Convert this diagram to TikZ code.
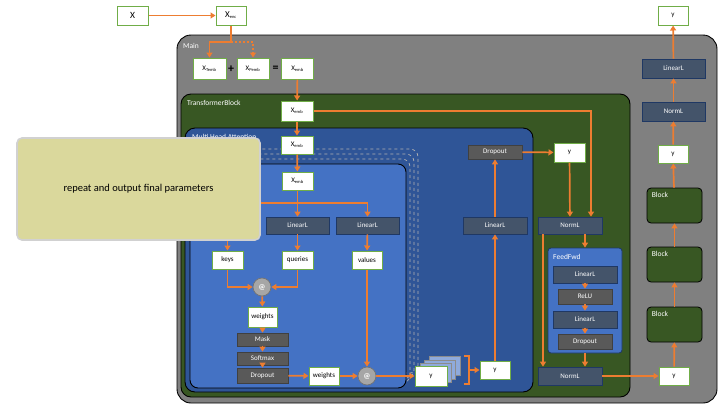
\documentclass[tikz,border=0pt]{standalone}
\usepackage{fontspec}
\setmainfont{Carlito}
\usetikzlibrary{arrows.meta}

\definecolor{maingray}{RGB}{128,128,128}
\definecolor{tbgreen}{RGB}{56,87,35}
\definecolor{mhablue}{RGB}{47,85,151}
\definecolor{headblue}{RGB}{68,114,196}
\definecolor{linfill}{RGB}{68,84,106}
\definecolor{linedge}{RGB}{31,56,100}
\definecolor{opfill}{RGB}{89,89,89}
\definecolor{boxgreen}{RGB}{112,173,71}
\definecolor{arrorange}{RGB}{237,125,49}
\definecolor{notefill}{RGB}{218,216,156}
\definecolor{cardblue}{RGB}{143,170,220}

\newcommand{\xsub}[1]{X\textsubscript{\fontsize{4.5}{4.5}\selectfont #1}}

\begin{document}
\begin{tikzpicture}[x=1pt, y=-1pt,
    every node/.style = { font=\fontsize{7}{8}\selectfont, inner sep=0pt },
    wbox/.style = { draw=boxgreen, fill=white, line width=1pt, minimum width=31, minimum height=19 },
    linl/.style = { draw=linedge, fill=linfill, text=white, line width=0.7pt, minimum width=63, minimum height=17 },
    opbox/.style = { draw=black!75, fill=opfill, text=white, line width=0.7pt, minimum width=52, minimum height=14 },
    atop/.style = { circle, draw=black!55, fill=black!35, text=white, line width=0.7pt, minimum size=18, font=\fontsize{7.5}{8}\selectfont\bfseries },
    blockbox/.style = { draw=black, fill=tbgreen, line width=0.8pt, rounded corners=4, minimum width=55, minimum height=35 },
    card/.style = { draw=black!45, fill=cardblue, line width=0.7pt, minimum width=31, minimum height=19 },
    frame/.style = { draw=black, line width=0.9pt },
    ttl/.style = { text=white, anchor=west, font=\fontsize{7.5}{8}\selectfont },
    ln/.style = { draw=arrorange, line width=1.7pt },
    arr/.style = { ln, -{Triangle[length=5pt,width=6pt]} }
  ]
  \useasboundingbox (0,0) rectangle (720,405);

  % containers
  \draw[frame, fill=maingray, rounded corners=14] (177,35) rectangle (717,403);
  \node[ttl] (mainlbl) at (183,46) {Main};
  \draw[frame, fill=tbgreen, rounded corners=10] (181,94) rectangle (630,397);
  \node[ttl] (tblbl) at (187,103) {TransformerBlock};
  \draw[frame, fill=mhablue, rounded corners=10] (185,128) rectangle (533,392);
  \node[ttl] (mhalbl) at (192,137) {Multi Head Attention};
  \foreach \d in {3,2,1}
    \draw[dashed, black!30, line width=0.7pt, rounded corners=8] (190+4*\d,164-5*\d) rectangle (406+4*\d,388-5*\d);
  \draw[frame, fill=headblue, rounded corners=8] (190,164) rectangle (406,388);

  % input and embeddings
  \node[wbox, font=\fontsize{9.5}{10}\selectfont] (x) at (132.5,15.5) {X};
  \node[wbox, font=\fontsize{9}{9}\selectfont, minimum width=30] (xenc) at (231,15.5) {\xsub{enc}};
  \node[wbox, minimum width=33, minimum height=21] (xtemb) at (209.5,68.5) {\xsub{Temb}};
  \node[font=\fontsize{12}{12}\selectfont\bfseries] (plus) at (231,69) {+};
  \node[wbox, minimum width=32, minimum height=21] (xpemb) at (253,68.5) {\xsub{Pemb}};
  \node[font=\fontsize{12}{12}\selectfont\bfseries] (eq) at (275.5,69) {=};
  \node[wbox, minimum width=32, minimum height=21] (xemb0) at (297.5,68.5) {\xsub{emb}};

  % transformer block
  \node[wbox, minimum width=32, minimum height=20] (tbemb) at (297,111) {\xsub{emb}};
  \node[wbox, minimum width=32, minimum height=18] (mhaemb) at (297,145) {\xsub{emb}};
  \node[wbox, minimum width=31, minimum height=18] (hdemb) at (297.5,181) {\xsub{emb}};

  % one head
  \node[linl] (linq) at (297.5,225.5) {LinearL};
  \node[linl] (linv) at (367.5,225.5) {LinearL};
  \node[wbox, minimum height=18] (keys) at (227.5,260) {keys};
  \node[wbox, minimum height=18] (queries) at (297.5,260) {queries};
  \node[wbox, minimum width=30, minimum height=18] (values) at (367,260) {values};
  \node[atop] (mul1) at (262,287) {@};
  \node[wbox, minimum width=29, minimum height=20] (wt1) at (262.5,317) {weights};
  \node[opbox, minimum width=51, minimum height=13] (mask) at (262.5,339.5) {Mask};
  \node[opbox, minimum width=51, minimum height=13] (softmax) at (262.5,358.5) {Softmax};
  \node[opbox, minimum width=51, minimum height=15] (droph) at (262.5,375.5) {Dropout};
  \node[wbox, minimum width=30, minimum height=18] (wt2) at (324,376) {weights};
  \node[atop] (mul2) at (367,376) {@};

  % heads stacked and joined
  \foreach \d in {3,2,1}
    \node[card] (card\d) at (431+4.5*\d,376-3.3*\d) {};
  \node[wbox, minimum width=32, minimum height=20] (yfront) at (431,376) {y};
  \draw[ln, line width=1.1pt] (464,356) -- (469,356) -- (469,384) -- (464,384);
  \coordinate (brk) at (469,370);
  \node[wbox, minimum width=30, minimum height=18] (ycat) at (495,370) {y};
  \node[linl, minimum width=64] (lino) at (495,225.5) {LinearL};
  \node[opbox, minimum width=54] (dropm) at (495,152) {Dropout};
  \node[wbox] (y1) at (569.5,152.5) {y};
  \node[linl, minimum width=64] (norm1) at (570,225.5) {NormL};

  % feed forward
  \node[draw=linedge, fill=headblue, line width=0.8pt, rounded corners=3, minimum width=74, minimum height=105] (ffwd) at (585,300.5) {};
  \node[ttl] (fflbl) at (553,257) {FeedFwd};
  \node[linl, minimum width=64] (fflin1) at (585,274.5) {LinearL};
  \node[opbox, minimum width=54, minimum height=15] (relu) at (585,296.5) {ReLU};
  \node[linl, minimum width=64] (fflin2) at (585,319.5) {LinearL};
  \node[opbox, minimum width=54, minimum height=15] (ffdrop) at (585,341.5) {Dropout};
  \node[linl, minimum width=64, minimum height=18] (norm2) at (570,376) {NormL};

  % stack of blocks and output
  \node[wbox, minimum width=30, minimum height=18] (yb) at (674,376) {y};
  \foreach \n/\y in {1/205.5, 2/264.5, 3/324.5} {
    \node[blockbox] (blk\n) at (674.5,\y) {};
    \node[ttl, anchor=north west] (blklbl\n) at ([shift={(5pt,-4pt)}]blk\n.north west) {Block};
  }
  \node[wbox, minimum width=30, minimum height=18] (ytop) at (673,154) {y};
  \node[linl, minimum height=19] (normr) at (673.5,111.5) {NormL};
  \node[linl, minimum height=19] (linr) at (673.5,68.5) {LinearL};
  \node[wbox, minimum width=30] (yout) at (673,15.5) {y};

  % connectors
  \draw[arr] (x) -- (xenc);
  \coordinate (encsplit) at (231,42);
  \draw[arr] (xenc.south) -- (encsplit) -| (xtemb.north);
  \draw[arr, dash pattern=on 2pt off 2pt] (encsplit) -| (xpemb.north);
  \draw[arr] (xemb0) -- (tbemb);
  \draw[arr] (tbemb) -- (mhaemb);
  \draw[arr] (mhaemb) -- (hdemb);
  \coordinate (hdsplit) at (297.5,203);
  \draw[ln] (hdemb.south) -- (hdsplit);
  \draw[arr] (hdsplit) -- (linq.north);
  \draw[arr] (hdsplit) -| (linv.north);
  \draw[arr] (hdsplit) -| (keys.north);
  \draw[arr] (linq) -- (queries);
  \draw[arr] (linv) -- (values);
  \draw[arr] (keys.south) |- (mul1.west);
  \draw[arr] (queries.south) |- (mul1.east);
  \draw[arr] (mul1) -- (wt1);
  \draw[arr] (wt1) -- (mask);
  \draw[arr] (mask) -- (softmax);
  \draw[arr] (softmax) -- (droph);
  \draw[arr] (droph) -- (wt2);
  \draw[arr] (wt2) -- (mul2);
  \draw[arr] (values) -- (mul2);
  \draw[arr] (mul2) -- (yfront);
  \draw[arr] (brk) -- (ycat.west);
  \draw[arr] (ycat) -- (lino);
  \draw[arr] (lino) -- (dropm);
  \draw[arr] (dropm) -- (y1);
  \draw[arr] (y1) -- (norm1);
  \draw[arr] (tbemb.east) -| ([xshift=21pt]norm1.north);
  \draw[arr] (norm1.south -| ffwd.north) -- (ffwd.north);
  \draw[arr] ([xshift=-27pt]norm1.south) -- ([xshift=-27pt]norm2.north);
  \draw[arr] (fflin1) -- (relu);
  \draw[arr] (relu) -- (fflin2);
  \draw[arr] (fflin2) -- (ffdrop);
  \draw[arr] (ffwd.south) -- (ffwd.south |- norm2.north);
  \draw[arr] (norm2) -- (yb);
  \draw[arr] (yb) -- (blk3);
  \draw[arr] (blk3) -- (blk2);
  \draw[arr] (blk2) -- (blk1);
  \draw[arr] (blk1) -- (ytop);
  \draw[arr] (ytop) -- (normr);
  \draw[arr] (normr) -- (linr);
  \draw[arr] (linr) -- (yout);

  % note on top
  \node[draw=black!18, line width=1.6pt, fill=notefill, rounded corners=5, minimum width=243, minimum height=102,
        font=\fontsize{10.5}{11}\selectfont] (note) at (138.5,189) {repeat and output final parameters};
\end{tikzpicture}
\end{document}
